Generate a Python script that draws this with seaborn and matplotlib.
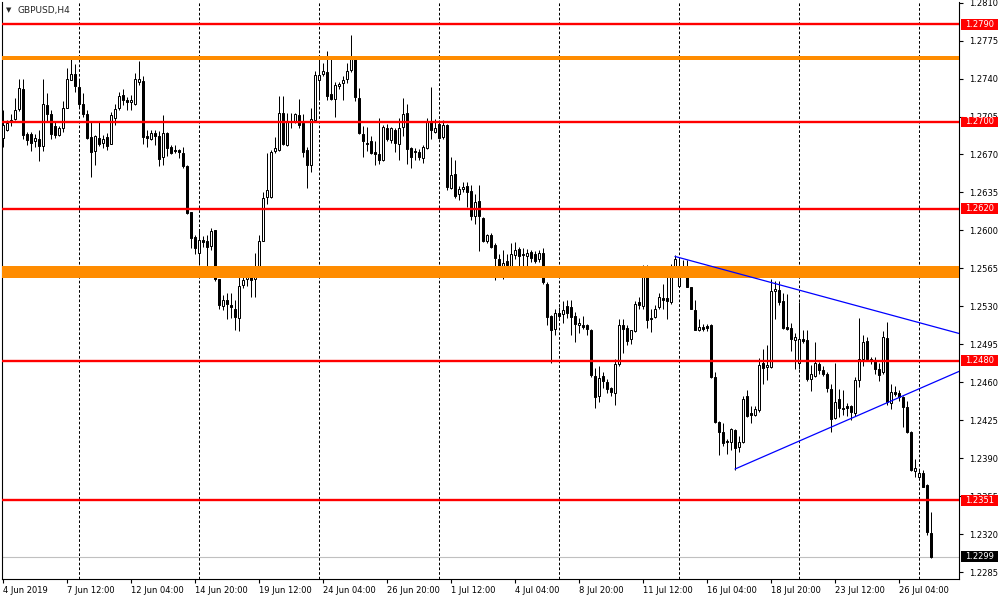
import numpy as np
import pandas as pd
import matplotlib
matplotlib.use("Agg")
import matplotlib.pyplot as plt
import seaborn as sns
from matplotlib.patches import Rectangle
from matplotlib.transforms import blended_transform_factory

# === GBPUSD H4 candles, 4 Jun 20:00 .. 29 Jul 12:00 (one entry per bar) ===
opens = [
    1.2685, 1.2693, 1.2701, 1.2703, 1.2712, 1.2730, 1.2689, 1.2689, 1.2682, 1.2684,
    1.2678, 1.2716, 1.2707, 1.2696, 1.2688, 1.2694, 1.2713, 1.2739, 1.2744, 1.2732,
    1.2717, 1.2707, 1.2686, 1.2673, 1.2685, 1.2681, 1.2686, 1.2680, 1.2704, 1.2713,
    1.2725, 1.2720, 1.2718, 1.2717, 1.2737, 1.2738, 1.2687, 1.2684, 1.2690, 1.2687,
    1.2668, 1.2690, 1.2677, 1.2674, 1.2674, 1.2671, 1.2659, 1.2617, 1.2594, 1.2579,
    1.2591, 1.2590, 1.2586, 1.2600, 1.2555, 1.2530, 1.2536, 1.2531, 1.2528, 1.2519,
    1.2550, 1.2555, 1.2559, 1.2555, 1.2564, 1.2590, 1.2631, 1.2631, 1.2673, 1.2674,
    1.2708, 1.2679, 1.2700, 1.2700, 1.2706, 1.2699, 1.2674, 1.2660, 1.2702, 1.2739,
    1.2744, 1.2746, 1.2726, 1.2721, 1.2733, 1.2736, 1.2740, 1.2748, 1.2760, 1.2722,
    1.2689, 1.2681, 1.2682, 1.2672, 1.2670, 1.2665, 1.2694, 1.2683, 1.2693, 1.2680,
    1.2695, 1.2708, 1.2676, 1.2673, 1.2672, 1.2667, 1.2676, 1.2701, 1.2691, 1.2698,
    1.2686, 1.2697, 1.2639, 1.2652, 1.2634, 1.2638, 1.2641, 1.2636, 1.2613, 1.2627,
    1.2611, 1.2590, 1.2596, 1.2587, 1.2574, 1.2566, 1.2572, 1.2566, 1.2577, 1.2583,
    1.2578, 1.2576, 1.2580, 1.2578, 1.2574, 1.2579, 1.2551, 1.2521, 1.2509, 1.2524,
    1.2523, 1.2530, 1.2529, 1.2521, 1.2513, 1.2513, 1.2513, 1.2508, 1.2466, 1.2447,
    1.2466, 1.2460, 1.2455, 1.2450, 1.2477, 1.2513, 1.2510, 1.2500, 1.2507, 1.2534,
    1.2530, 1.2561, 1.2519, 1.2520, 1.2529, 1.2538, 1.2538, 1.2534, 1.2564, 1.2549,
    1.2565, 1.2563, 1.2548, 1.2527, 1.2508, 1.2511, 1.2512, 1.2513, 1.2465, 1.2423,
    1.2414, 1.2406, 1.2405, 1.2416, 1.2400, 1.2405, 1.2447, 1.2432, 1.2430, 1.2434,
    1.2478, 1.2474, 1.2474, 1.2544, 1.2545, 1.2535, 1.2511, 1.2510, 1.2499, 1.2478,
    1.2500, 1.2499, 1.2463, 1.2466, 1.2477, 1.2471, 1.2468, 1.2454, 1.2427, 1.2445,
    1.2436, 1.2438, 1.2438, 1.2432, 1.2462, 1.2481, 1.2498, 1.2480, 1.2480, 1.2472,
    1.2469, 1.2501, 1.2441, 1.2451, 1.2450, 1.2446, 1.2437, 1.2414, 1.2378, 1.2373,
    1.2376, 1.2365, 1.2321,
]
highs = [
    1.2711, 1.2702, 1.2707, 1.2722, 1.2740, 1.2740, 1.2691, 1.2691, 1.2689, 1.2693,
    1.2740, 1.2727, 1.2711, 1.2701, 1.2696, 1.2719, 1.2750, 1.2760, 1.2753, 1.2740,
    1.2727, 1.2711, 1.2701, 1.2688, 1.2701, 1.2688, 1.2690, 1.2709, 1.2717, 1.2728,
    1.2730, 1.2723, 1.2725, 1.2745, 1.2756, 1.2742, 1.2693, 1.2693, 1.2693, 1.2692,
    1.2706, 1.2691, 1.2679, 1.2679, 1.2675, 1.2677, 1.2660, 1.2617, 1.2596, 1.2601,
    1.2595, 1.2596, 1.2602, 1.2600, 1.2555, 1.2540, 1.2542, 1.2542, 1.2536, 1.2559,
    1.2558, 1.2567, 1.2564, 1.2579, 1.2596, 1.2635, 1.2671, 1.2674, 1.2686, 1.2724,
    1.2724, 1.2708, 1.2708, 1.2708, 1.2721, 1.2707, 1.2677, 1.2713, 1.2747, 1.2757,
    1.2754, 1.2765, 1.2758, 1.2737, 1.2737, 1.2742, 1.2754, 1.2780, 1.2761, 1.2731,
    1.2696, 1.2695, 1.2687, 1.2682, 1.2704, 1.2697, 1.2698, 1.2695, 1.2694, 1.2704,
    1.2722, 1.2717, 1.2677, 1.2676, 1.2675, 1.2679, 1.2704, 1.2732, 1.2703, 1.2702,
    1.2702, 1.2698, 1.2668, 1.2665, 1.2641, 1.2645, 1.2645, 1.2642, 1.2634, 1.2642,
    1.2612, 1.2597, 1.2598, 1.2588, 1.2578, 1.2582, 1.2578, 1.2588, 1.2589, 1.2585,
    1.2584, 1.2583, 1.2582, 1.2581, 1.2582, 1.2584, 1.2552, 1.2522, 1.2528, 1.2529,
    1.2535, 1.2536, 1.2536, 1.2525, 1.2519, 1.2521, 1.2514, 1.2509, 1.2473, 1.2475,
    1.2469, 1.2463, 1.2456, 1.2481, 1.2518, 1.2518, 1.2513, 1.2508, 1.2535, 1.2539,
    1.2568, 1.2568, 1.2528, 1.2531, 1.2542, 1.2551, 1.2557, 1.2569, 1.2577, 1.2575,
    1.2573, 1.2573, 1.2548, 1.2536, 1.2518, 1.2514, 1.2514, 1.2514, 1.2469, 1.2424,
    1.2422, 1.2408, 1.2418, 1.2417, 1.2410, 1.2447, 1.2453, 1.2438, 1.2438, 1.2482,
    1.2491, 1.2494, 1.2555, 1.2553, 1.2553, 1.2542, 1.2541, 1.2515, 1.2505, 1.2534,
    1.2508, 1.2508, 1.2476, 1.2497, 1.2479, 1.2475, 1.2469, 1.2458, 1.2478, 1.2454,
    1.2453, 1.2441, 1.2439, 1.2465, 1.2519, 1.2504, 1.2502, 1.2483, 1.2483, 1.2478,
    1.2507, 1.2516, 1.2458, 1.2457, 1.2453, 1.2447, 1.2443, 1.2415, 1.2389, 1.2379,
    1.2379, 1.2366, 1.2340,
]
lows = [
    1.2677, 1.2692, 1.2696, 1.2702, 1.2710, 1.2684, 1.2679, 1.2673, 1.2677, 1.2664,
    1.2673, 1.2701, 1.2684, 1.2685, 1.2687, 1.2691, 1.2713, 1.2739, 1.2728, 1.2713,
    1.2705, 1.2684, 1.2649, 1.2660, 1.2678, 1.2676, 1.2674, 1.2680, 1.2697, 1.2711,
    1.2716, 1.2711, 1.2711, 1.2716, 1.2734, 1.2680, 1.2677, 1.2683, 1.2679, 1.2659,
    1.2660, 1.2669, 1.2670, 1.2671, 1.2667, 1.2658, 1.2615, 1.2584, 1.2578, 1.2568,
    1.2585, 1.2567, 1.2582, 1.2553, 1.2528, 1.2527, 1.2518, 1.2519, 1.2508, 1.2507,
    1.2547, 1.2549, 1.2539, 1.2539, 1.2563, 1.2590, 1.2624, 1.2630, 1.2671, 1.2673,
    1.2679, 1.2678, 1.2694, 1.2699, 1.2694, 1.2668, 1.2639, 1.2654, 1.2701, 1.2720,
    1.2742, 1.2720, 1.2720, 1.2705, 1.2730, 1.2720, 1.2736, 1.2746, 1.2719, 1.2689,
    1.2668, 1.2673, 1.2670, 1.2660, 1.2661, 1.2664, 1.2682, 1.2681, 1.2672, 1.2665,
    1.2687, 1.2661, 1.2658, 1.2665, 1.2665, 1.2662, 1.2675, 1.2684, 1.2690, 1.2684,
    1.2684, 1.2637, 1.2638, 1.2630, 1.2628, 1.2635, 1.2622, 1.2610, 1.2606, 1.2581,
    1.2589, 1.2588, 1.2584, 1.2554, 1.2560, 1.2555, 1.2567, 1.2562, 1.2574, 1.2565,
    1.2565, 1.2567, 1.2571, 1.2570, 1.2571, 1.2551, 1.2513, 1.2478, 1.2504, 1.2519,
    1.2515, 1.2519, 1.2504, 1.2497, 1.2505, 1.2509, 1.2504, 1.2465, 1.2436, 1.2442,
    1.2455, 1.2450, 1.2447, 1.2439, 1.2475, 1.2487, 1.2494, 1.2495, 1.2506, 1.2528,
    1.2528, 1.2510, 1.2506, 1.2519, 1.2528, 1.2528, 1.2518, 1.2532, 1.2563, 1.2548,
    1.2559, 1.2548, 1.2528, 1.2508, 1.2507, 1.2507, 1.2507, 1.2464, 1.2422, 1.2393,
    1.2401, 1.2394, 1.2398, 1.2379, 1.2396, 1.2404, 1.2428, 1.2422, 1.2429, 1.2433,
    1.2458, 1.2462, 1.2473, 1.2518, 1.2531, 1.2509, 1.2508, 1.2489, 1.2472, 1.2472,
    1.2496, 1.2461, 1.2452, 1.2465, 1.2468, 1.2466, 1.2451, 1.2414, 1.2426, 1.2428,
    1.2430, 1.2429, 1.2425, 1.2429, 1.2456, 1.2475, 1.2481, 1.2477, 1.2468, 1.2461,
    1.2468, 1.2439, 1.2435, 1.2447, 1.2443, 1.2419, 1.2413, 1.2378, 1.2373, 1.2372,
    1.2363, 1.2319, 1.2298,
]
closes = [
    1.2697, 1.2699, 1.2702, 1.2711, 1.2731, 1.2688, 1.2683, 1.2681, 1.2685, 1.2678,
    1.2717, 1.2707, 1.2689, 1.2688, 1.2694, 1.2713, 1.2740, 1.2744, 1.2733, 1.2717,
    1.2707, 1.2685, 1.2672, 1.2687, 1.2680, 1.2684, 1.2678, 1.2706, 1.2712, 1.2724,
    1.2720, 1.2718, 1.2720, 1.2740, 1.2740, 1.2686, 1.2685, 1.2690, 1.2687, 1.2666,
    1.2690, 1.2676, 1.2671, 1.2673, 1.2672, 1.2659, 1.2616, 1.2593, 1.2584, 1.2591,
    1.2589, 1.2585, 1.2599, 1.2555, 1.2531, 1.2536, 1.2532, 1.2529, 1.2520, 1.2549,
    1.2554, 1.2560, 1.2554, 1.2566, 1.2590, 1.2630, 1.2637, 1.2672, 1.2676, 1.2708,
    1.2680, 1.2700, 1.2701, 1.2707, 1.2697, 1.2672, 1.2660, 1.2703, 1.2743, 1.2743,
    1.2747, 1.2724, 1.2721, 1.2734, 1.2735, 1.2739, 1.2747, 1.2759, 1.2723, 1.2690,
    1.2682, 1.2680, 1.2671, 1.2670, 1.2665, 1.2695, 1.2684, 1.2694, 1.2681, 1.2694,
    1.2707, 1.2675, 1.2668, 1.2672, 1.2668, 1.2677, 1.2701, 1.2693, 1.2694, 1.2685,
    1.2697, 1.2640, 1.2651, 1.2632, 1.2638, 1.2640, 1.2635, 1.2613, 1.2626, 1.2613,
    1.2590, 1.2596, 1.2585, 1.2575, 1.2565, 1.2570, 1.2568, 1.2578, 1.2582, 1.2576,
    1.2577, 1.2579, 1.2575, 1.2572, 1.2579, 1.2552, 1.2520, 1.2508, 1.2524, 1.2521,
    1.2527, 1.2524, 1.2520, 1.2514, 1.2515, 1.2511, 1.2509, 1.2467, 1.2446, 1.2464,
    1.2461, 1.2454, 1.2451, 1.2477, 1.2513, 1.2509, 1.2498, 1.2508, 1.2532, 1.2531,
    1.2560, 1.2517, 1.2518, 1.2528, 1.2539, 1.2536, 1.2535, 1.2563, 1.2574, 1.2565,
    1.2562, 1.2548, 1.2528, 1.2508, 1.2511, 1.2509, 1.2510, 1.2465, 1.2423, 1.2414,
    1.2404, 1.2405, 1.2417, 1.2399, 1.2405, 1.2445, 1.2429, 1.2430, 1.2435, 1.2476,
    1.2473, 1.2476, 1.2544, 1.2546, 1.2534, 1.2510, 1.2509, 1.2500, 1.2502, 1.2500,
    1.2498, 1.2463, 1.2468, 1.2478, 1.2471, 1.2468, 1.2455, 1.2426, 1.2442, 1.2436,
    1.2435, 1.2436, 1.2433, 1.2462, 1.2481, 1.2497, 1.2481, 1.2481, 1.2472, 1.2467,
    1.2502, 1.2442, 1.2451, 1.2449, 1.2446, 1.2437, 1.2414, 1.2379, 1.2381, 1.2376,
    1.2363, 1.2322, 1.2299,
]

# x axis labels (every 16 bars) and week starts (dashed grid)
tick_bars = [0, 16, 32, 48, 64, 80, 96, 112, 128, 144, 160, 176, 192, 208, 224]
tick_labels = ["4 Jun 2019", "7 Jun 12:00", "12 Jun 04:00", "14 Jun 20:00",
               "19 Jun 12:00", "24 Jun 04:00", "26 Jun 20:00", "1 Jul 12:00",
               "4 Jul 04:00", "8 Jul 20:00", "11 Jul 12:00", "16 Jul 04:00",
               "18 Jul 20:00", "23 Jul 12:00", "26 Jul 04:00"]
week_bars = [19, 49, 79, 109, 139, 169, 199, 229]

price_ticks = [1.2810, 1.2775, 1.2740, 1.2705, 1.2670, 1.2635, 1.2600, 1.2565,
               1.2530, 1.2495, 1.2460, 1.2425, 1.2390, 1.2355, 1.2320, 1.2285]

# drawn levels
red_levels = [1.2790, 1.2700, 1.2620, 1.2480, 1.2351]
orange_zones = [(1.2757, 1.2761), (1.2556, 1.2567)]
bid_price = 1.2299
upper_trend_bars = [168, 239]
upper_trend_prices = [1.2576, 1.2505]
lower_trend_bars = [183, 239]
lower_trend_prices = [1.2380, 1.2470]

# === Plot ===
sns.set_style("white")
plt.rcParams["font.family"] = ["DejaVu Sans"]

df = pd.DataFrame({"open": opens, "high": highs, "low": lows, "close": closes})
df["bar"] = np.arange(len(df))
bull = df["close"] >= df["open"]

fig = plt.figure(figsize=(10, 6), dpi=100)
ax = fig.add_axes([2 / 1000, 21 / 600, 957 / 1000, 577 / 600])

for b in week_bars:
    ax.axvline(b, color="black", lw=0.72, ls=(0, (2.7, 2)), zorder=1)
ax.axhline(bid_price, color="#c0c0c0", lw=0.8, zorder=1.5)

ax.vlines(df["bar"], df["low"], df["high"], color="black", lw=0.72, zorder=2)
ax.bar(df["bar"], (df["close"] - df["open"]).abs(),
       bottom=df[["open", "close"]].min(axis=1), width=0.55,
       color=np.where(bull, "white", "black"), edgecolor="black",
       linewidth=0.72, zorder=3)

for lo, hi in orange_zones:
    ax.axhspan(lo, hi, color="#ff8c00", lw=0, zorder=4)
for lv in red_levels:
    ax.axhline(lv, color="#ff0000", lw=1.7, zorder=4)

sns.lineplot(x=upper_trend_bars, y=upper_trend_prices, color="#0000ff",
             lw=0.9, ax=ax, zorder=5, legend=False)
sns.lineplot(x=lower_trend_bars, y=lower_trend_prices, color="#0000ff",
             lw=0.9, ax=ax, zorder=5, legend=False)

ax.set_xlim(-0.25, 239)
ax.set_ylim(1.22786, 1.28106)

ax.yaxis.tick_right()
ax.set_yticks(price_ticks)
ax.set_yticklabels([f"{t:.4f}" for t in price_ticks])
ax.tick_params(axis="y", right=True, left=False, labelright=True, labelleft=False,
               length=3, width=0.8, pad=4, labelsize=6, colors="black")
ax.set_xticks(tick_bars)
ax.set_xticklabels(tick_labels, ha="left")
ax.tick_params(axis="x", bottom=True, length=3, width=0.8, pad=2,
               labelsize=6, colors="black")
ax.set_xlabel("")
ax.set_ylabel("")

ax.spines["top"].set_visible(False)
for s in ["left", "right", "bottom"]:
    ax.spines[s].set_color("black")
    ax.spines[s].set_linewidth(0.8)

# price boxes on the right scale
blend = blended_transform_factory(ax.transAxes, ax.transData)
box_h = 0.00100
for lv, fc in [(p, "#ff0000") for p in red_levels] + [(bid_price, "black")]:
    ax.add_patch(Rectangle((1.0021, lv - box_h / 2), 0.0387, box_h, transform=blend,
                           facecolor=fc, edgecolor="none", clip_on=False, zorder=6))
    ax.text(1.0063, lv, f"{lv:.4f}", transform=blend, color="white", fontsize=6,
            ha="left", va="center", clip_on=False, zorder=7)

fig.text(6 / 1000, 1 - 10 / 600, "\u25bc", fontsize=5, va="center", ha="left")
fig.text(18 / 1000, 1 - 10 / 600, "GBPUSD,H4", fontsize=6.5, va="center", ha="left")

fig.savefig("out.png", dpi=100)
plt.close(fig)
